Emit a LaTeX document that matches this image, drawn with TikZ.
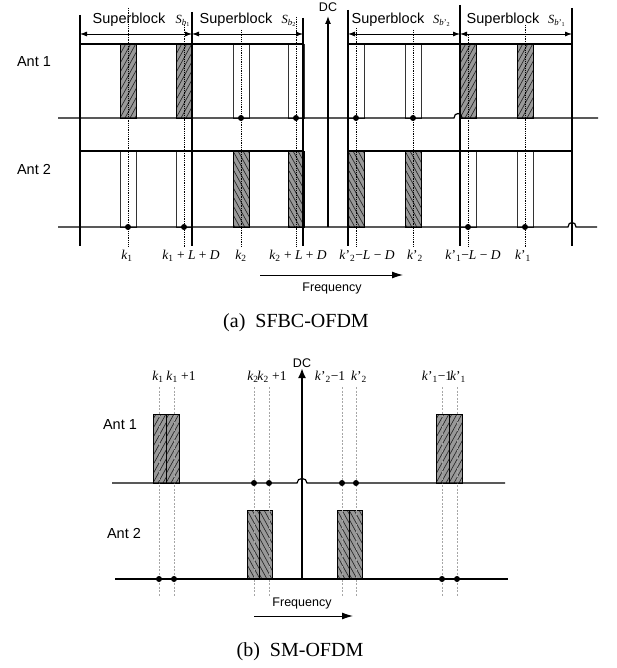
\documentclass[tikz,border=0pt]{standalone}
\usepackage{fontspec}
\setmainfont{Liberation Serif}
\setsansfont{Liberation Sans}
\usetikzlibrary{arrows.meta}
\newcommand\kv[1]{\textit{k}\textsubscript{#1}}
\newcommand\kp[1]{\textit{k}'\textsubscript{#1}}
\newcommand\Sb[1]{\textit{S}\textsubscript{\textit{b}\textsubscript{#1}}}
\newcommand\Sbp[1]{\textit{S}\textsubscript{\textit{b}'\textsubscript{#1}}}
% hatched rectangle: x, y(top), w, h, dir (1 = /, -1 = \)
\newcommand\hatchrect[5]{%
  \fill[hfill] (#1,#2) rectangle ++(#3,#4);
  \begin{scope}
    \clip (#1,#2) rectangle ++(#3,#4);
    \ifnum#5=1
      \foreach \t in {-60,-55,...,25}
        \draw[hline] ({#1+\t},{#2+#4}) -- ++({0.55*#4},{-#4});
    \else
      \foreach \t in {-60,-55,...,25}
        \draw[hline] ({#1+\t},{#2}) -- ++({0.55*#4},{#4});
    \fi
  \end{scope}
  \draw[hedge] (#1,#2) rectangle ++(#3,#4);
}
\tikzset{
  ax/.style={line width=1.2pt},
  bnd/.style={line width=1.1pt},
  hfill/.style={fill=black!40},
  hline/.style={draw=black!85, line width=0.65pt},
  hedge/.style={draw=black, line width=0.8pt},
  wbox/.style={draw=black!80, line width=0.9pt, fill=white},
  dotl/.style={densely dotted, line width=0.8pt},
  gdash/.style={black!35, dash pattern=on 2pt off 1.5pt, line width=0.6pt},
  lab/.style={font=\fontsize{13.5}{14}\selectfont, inner sep=0pt, anchor=base},
  sf/.style={font=\sffamily\fontsize{14.5}{15}\selectfont, inner sep=0pt},
  sfs/.style={font=\sffamily\fontsize{12.5}{13}\selectfont, inner sep=0pt},
  slab/.style={font=\fontsize{12.5}{13}\selectfont, inner sep=0pt, anchor=base},
  captxt/.style={font=\fontsize{20}{20}\selectfont, inner sep=0pt},
  sbar/.style={line width=0.8pt, {Latex[length=7pt,width=5pt]}-{Latex[length=7pt,width=5pt]}},
  farr/.style={line width=1pt, -{Latex[length=11pt,width=7pt]}},
}
\begin{document}
\begin{tikzpicture}[x=1pt,y=-1pt]
\useasboundingbox (0,0) rectangle (616,668);
% ================= panel (a) =================
% boxes Ant 1
\foreach \a in {120,176,460,517} { \hatchrect{\a}{44}{16}{74}{1} }
\foreach \a in {233,288,348,405} \draw[wbox] (\a,44) rectangle ++(16,74);
% boxes Ant 2
\foreach \a in {233,288,348,405} { \hatchrect{\a}{151}{16}{76}{-1} }
\foreach \a in {120,176,460,517} \draw[wbox] (\a,151) rectangle ++(16,76);
% top edges of rows
\draw[bnd] (80,44) -- (303,44) (348,44) -- (572,44);
\draw[bnd] (80,151) -- (303,151) (348,151) -- (572,151);
% superblock boundaries
\foreach \x/\t in {80/15,192/12,303/18,348/10,460/5,572/8}
  \draw[bnd] (\x,\t) -- (\x,246);
% dotted subcarrier lines
\foreach \x/\t in {128/8,184/25,241/30,296/17,356/28,413/30,468/35,525/25}
  \draw[dotl] (\x,\t) -- (\x,247);
% axes
\draw[ax] (58,118) -- (454,118) .. controls (454,112) and (462,112) .. (462,118) -- (598,118);
\draw[ax] (58,227) -- (568,227) .. controls (568,221) and (576,221) .. (576,227) -- (597,227);
% dots
\foreach \x in {241,296,356,413} \fill (\x,118) circle (3);
\foreach \x in {128,184,468,525} \fill (\x,227) circle (3);
% DC
\node[sfs] (dca) at (328,7) {DC};
\coordinate (dcab) at (328,227);
\coordinate (dcat) at (328,16);
\draw[line width=1.2pt,-{Latex[length=8pt,width=6pt]}] (dcab) -- (dcat);
% superblock arrows
\foreach \l/\r in {80/192,192/303,348/460,460/572}
  \draw[sbar] (\l,34) -- (\r,34);
\node[sf, anchor=base] (sb1) at (129,24) {Superblock};
\node[sf, anchor=base] (sb2) at (236,24) {Superblock};
\node[sf, anchor=base] (sb3) at (388,24) {Superblock};
\node[sf, anchor=base] (sb4) at (503,24) {Superblock};
\node[slab] (s1) at (183,24) {\Sb{1}};
\node[slab] (s2) at (289,24) {\Sb{2}};
\node[slab] (s3) at (442,24) {\Sbp{2}};
\node[slab] (s4) at (557,24) {\Sbp{1}};
% antenna labels
\node[sf] (a1) at (34,62) {Ant 1};
\node[sf] (a2) at (34,169) {Ant 2};
% bottom labels
\node[lab] (l1) at (127,259) {\kv{1}};
\node[lab] (l2) at (191,259) {\kv{1} + \textit{L} + \textit{D}};
\node[lab] (l3) at (241,259) {\kv{2}};
\node[lab] (l4) at (298,259) {\kv{2} + \textit{L} + \textit{D}};
\node[lab] (l5) at (367,259) {\kp{2}−\textit{L} − \textit{D}};
\node[lab] (l6) at (415,259) {\kp{2}};
\node[lab] (l7) at (473,259) {\kp{1}−\textit{L} − \textit{D}};
\node[lab] (l8) at (523,259) {\kp{1}};
% frequency
\coordinate (fa1) at (260,275);
\coordinate (fa2) at (403,275);
\draw[farr] (fa1) -- (fa2);
\node[sfs] (fqa) at (332,288) {Frequency};
\node[captxt] (capa) at (296,323) {(a)\hspace{0.5em}SFBC-OFDM};
% ================= panel (b) =================
\foreach \a/\w in {153/13,166/13,436/13,449/13} { \hatchrect{\a}{414}{\w}{69}{1} }
\foreach \a/\w in {247/12,259/13,337/12,349/13} { \hatchrect{\a}{510}{\w}{69}{-1} }
\foreach \x in {159,174,254,269,342,356,442,457}
  \draw[gdash] (\x,387) -- (\x,596);
% DC
\coordinate (dcbb) at (302,579);
\coordinate (dcbt) at (302,368);
\draw[line width=2.4pt,-{Latex[length=10pt,width=8pt]}] (dcbb) -- (dcbt);
\node[sfs] (dcb) at (302,363) {DC};
% axes
\draw[ax] (112,483) -- (297,483) .. controls (297,477) and (307,477) .. (307,483) -- (505,483);
\draw[ax] (115,579) -- (508,579);
\foreach \x in {254,269,342,356} \fill (\x,483) circle (3);
\foreach \x in {159,174,442,457} \fill (\x,579) circle (3);
% labels
\node[lab] (m1) at (158,380) {\kv{1}};
\node[lab] (m2) at (181,380) {\kv{1} +1};
\node[lab] (m3) at (253,380) {\kv{2}};
\node[lab] (m4) at (272,380) {\kv{2} +1};
\node[lab] (m5) at (330,380) {\kp{2}−1};
\node[lab] (m6) at (359,380) {\kp{2}};
\node[lab] (m7) at (437,380) {\kp{1}−1};
\node[lab] (m8) at (458,380) {\kp{1}};
\node[sf] (b1) at (120,425) {Ant 1};
\node[sf] (b2) at (124,533) {Ant 2};
\coordinate (fb1) at (254,616);
\coordinate (fb2) at (353,616);
\draw[farr] (fb1) -- (fb2);
\node[sfs] (fqb) at (302,603) {Frequency};
\node[captxt] (capb) at (300,652) {(b)\hspace{0.5em}SM-OFDM};
\end{tikzpicture}
\end{document}
